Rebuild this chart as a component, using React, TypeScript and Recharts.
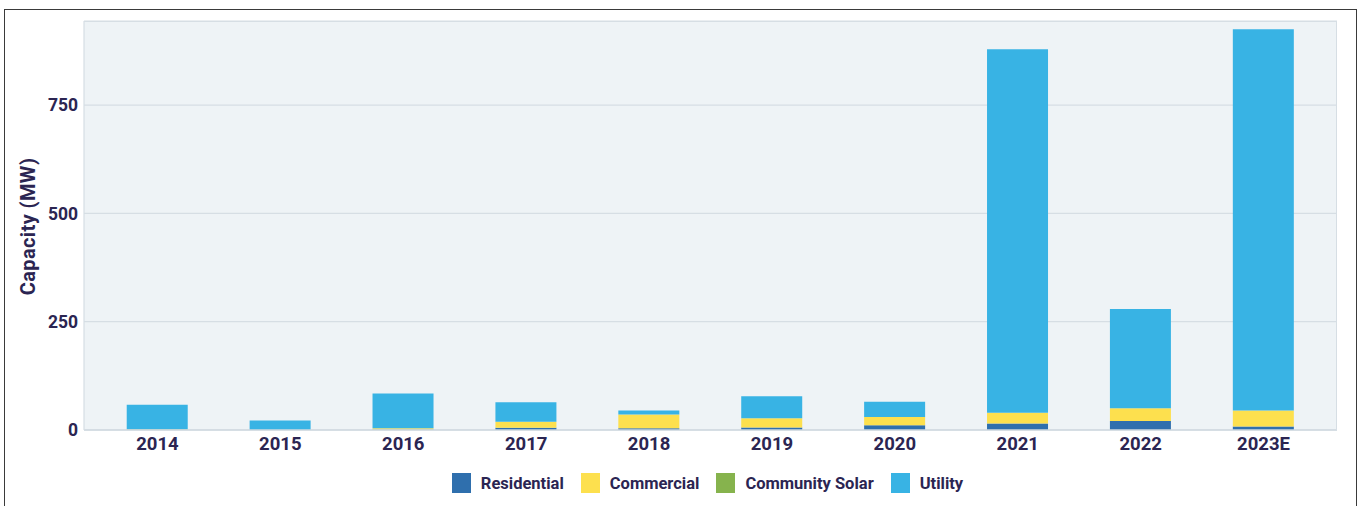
import React from "react";
import { BarChart, Bar, XAxis, YAxis, CartesianGrid, Legend } from "recharts";

const years = ["2014", "2015", "2016", "2017", "2018", "2019", "2020", "2021", "2022", "2023E"];
const residential = [0, 0, 1, 5, 4, 6, 11, 15, 21, 8];
const commercial = [1, 0, 3, 14, 32, 21, 19, 25, 29, 37];
const communitySolar = [0, 0, 0, 0, 0, 0, 0, 0, 0, 0];
const utility = [57, 22, 80, 45, 9, 51, 35, 839, 229, 880];
const yTicks = [0, 250, 500, 750];

const seriesNames = ["Residential", "Commercial", "Community Solar", "Utility"];
const seriesColors = ["#2f6fad", "#fde04e", "#86b34d", "#38b3e4"];
const seriesKeys = ["residential", "commercial", "communitySolar", "utility"];

const data = years.map((y, i) => ({
  year: y,
  residential: residential[i],
  commercial: commercial[i],
  communitySolar: communitySolar[i],
  utility: utility[i],
}));

const TEXT = "#2b2552";
const FONT = "Roboto, 'Noto Sans', sans-serif";

const LegendContent = () => (
  <div
    style={{
      display: "flex",
      justifyContent: "center",
      alignItems: "center",
      paddingLeft: 54,
      fontFamily: FONT,
      fontSize: 16.5,
      fontWeight: 700,
      color: TEXT,
      height: 46,
    }}
  >
    {seriesNames.map((n, i) => (
      <div key={n} style={{ display: "flex", alignItems: "center", marginRight: i < 3 ? 17 : 0 }}>
        <div style={{ width: 19, height: 20, background: seriesColors[i], marginRight: 10 }} />
        <span>{n}</span>
      </div>
    ))}
  </div>
);

const YLabel = (props: any) => {
  const vb = props.viewBox || {};
  const cy = (vb.y || 0) + (vb.height || 0) / 2 + 1;
  const cx = 28;
  return (
    <text
      x={cx}
      y={cy}
      transform={`rotate(-90, ${cx}, ${cy})`}
      textAnchor="middle"
      dominantBaseline="central"
      fill={TEXT}
      fontFamily={FONT}
      fontSize={20}
      fontWeight={700}
      letterSpacing={0.4}
    >
      Capacity (MW)
    </text>
  );
};

export default function App() {
  return (
    <div style={{ position: "absolute", left: 0, top: 0, width: 1361, height: 506, overflow: "hidden", background: "#fff" }}>
      <div
        style={{
          position: "absolute",
          left: 4,
          top: 9,
          width: 1353,
          height: 600,
          border: "1.5px solid #3a3a3a",
          boxSizing: "border-box",
        }}
      />
      <div style={{ position: "absolute", left: 0, top: 0 }}>
        <BarChart
          width={1361}
          height={506}
          data={data}
          margin={{ top: 21, right: 24, left: 0, bottom: 0 }}
          barCategoryGap="25%"
        >
          <CartesianGrid vertical={false} fill="#eef3f6" stroke="#d6dee4" strokeWidth={1.2} />
          <XAxis
            dataKey="year"
            height={30}
            padding={{ left: 12, right: 12 }}
            tickLine={false}
            tickSize={0}
            tickMargin={7}
            axisLine={{ stroke: "#cfd8df", strokeWidth: 1.5 }}
            tick={{ fill: TEXT, fontSize: 18.5, fontWeight: 700, fontFamily: FONT }}
            interval={0}
          />
          <YAxis
            width={84}
            domain={[0, 944]}
            ticks={yTicks}
            tickLine={false}
            tickSize={0}
            tickMargin={6}
            axisLine={{ stroke: "#d6dee4", strokeWidth: 1.2 }}
            tick={{ fill: TEXT, fontSize: 17.5, fontWeight: 700, fontFamily: FONT }}
            label={<YLabel />}
          />
          <Legend verticalAlign="bottom" height={46} content={<LegendContent />} wrapperStyle={{ left: 0, width: 1361 }} />
          {seriesKeys.map((k, i) => (
            <Bar
              key={k}
              dataKey={k}
              name={seriesNames[i]}
              stackId="a"
              fill={seriesColors[i]}
              isAnimationActive={false}
            />
          ))}
        </BarChart>
      </div>
      <div
        style={{
          position: "absolute",
          left: 84,
          top: 21,
          width: 1253,
          height: 409,
          borderTop: "1.2px solid #d6dee4",
          borderRight: "1.2px solid #d6dee4",
          boxSizing: "border-box",
          pointerEvents: "none",
        }}
      />
    </div>
  );
}
